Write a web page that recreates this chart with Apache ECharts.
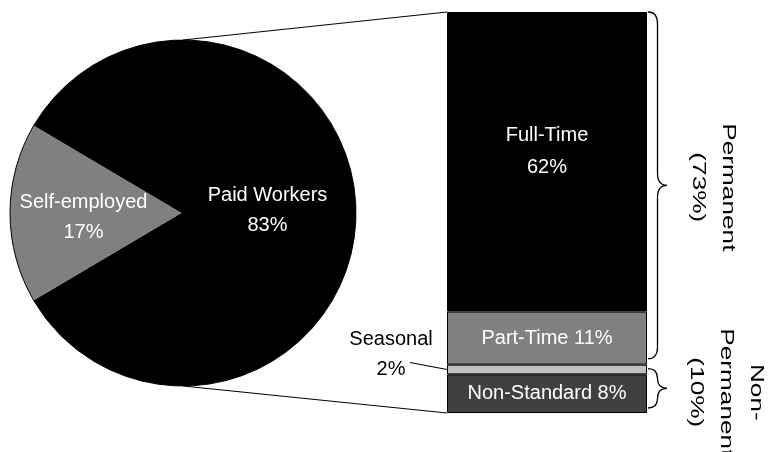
<!DOCTYPE html>
<html><head><meta charset="utf-8">
<script src="https://cdn.jsdelivr.net/npm/echarts@6/dist/echarts.min.js"></script>
<style>html,body{margin:0;padding:0;background:#fff}#chart{width:768px;height:452px}</style>
</head><body><div id="chart"></div>
<script>
// Workforce split: pie of all workers, bar breaking down paid workers
const pieNames = ['Self-employed', 'Paid Workers'];
const pieValues = [17, 83];
const pieColors = ['#808080', '#000000'];

// Stacked from the bottom up
const barNames = ['Non-Standard', 'Seasonal', 'Part-Time', 'Full-Time'];
const barValues = [8, 2, 11, 62];
const barColors = ['#404040', '#c0c0c0', '#808080', '#000000'];

// Brace groups, bottom to top
const groupLabels = [['Non-', 'Permanent'], ['Permanent']];
const groupValues = [10, 73];

const FONT = '"Liberation Sans", Arial, sans-serif';
const PIE_C = [183, 213], PIE_R = 173;
const GRID = { left: 447, top: 12, width: 200, height: 401 };

const chart = echarts.init(document.getElementById('chart'), null, { renderer: 'canvas' });

const pieTotal = pieValues.reduce((a, b) => a + b, 0);
const pieOffsets = [[-10, 4], [-5, -3]];
const barTotal = barValues.reduce((a, b) => a + b, 0);

const barLabelStyles = {
  'Non-Standard': { position: 'inside', formatter: '{a} {c}%', color: '#fff' },
  'Seasonal': {
    position: 'left', distance: 10, offset: [0, -15],
    formatter: '{t|{a}}\n{t|{c}%}',
    rich: { t: { width: 92, align: 'center', fontSize: 20, lineHeight: 30, color: '#000', fontFamily: FONT } }
  },
  'Part-Time': { position: 'inside', formatter: '{a} {c}%', color: '#fff' },
  'Full-Time': { position: 'inside', formatter: '{a}\n{c}%', color: '#fff', lineHeight: 32, offset: [0, -10] }
};

const option = {
  animation: false,
  backgroundColor: '#fff',
  textStyle: { fontFamily: FONT },
  grid: { left: GRID.left, top: GRID.top, width: GRID.width, height: GRID.height, containLabel: false },
  xAxis: { type: 'category', data: ['Paid'], show: false },
  yAxis: { type: 'value', min: 0, max: barTotal, show: false },
  series: [
    {
      type: 'pie',
      center: PIE_C,
      radius: PIE_R,
      startAngle: 180 + (pieValues[0] / pieTotal) * 360 / 2,
      clockwise: true,
      z: 3,
      itemStyle: { borderColor: '#000', borderWidth: 1 },
      label: {
        show: true, position: 'inside', color: '#fff', fontSize: 20, lineHeight: 30,
        fontFamily: FONT, formatter: '{b}\n{c}%'
      },
      labelLine: { show: false },
      emphasis: { disabled: true },
      data: pieNames.map((n, i) => ({
        name: n, value: pieValues[i],
        itemStyle: { color: pieColors[i] },
        label: { offset: pieOffsets[i] }
      }))
    },
    ...barNames.map((n, i) => ({
      type: 'bar',
      name: n,
      stack: 'paid',
      barWidth: '100%',
      z: 3,
      itemStyle: { color: barColors[i], borderColor: '#000', borderWidth: 1 },
      label: Object.assign({ show: true, fontSize: 20, fontFamily: FONT }, barLabelStyles[n]),
      emphasis: { disabled: true },
      data: [barValues[i]]
    }))
  ]
};
chart.setOption(option);

// Annotations positioned from the bar's value axis
const yPix = v => chart.convertToPixel({ yAxisIndex: 0 }, v);
const barLeft = GRID.left, barRight = GRID.left + GRID.width;
const braceStroke = { stroke: '#000', lineWidth: 1.3, fill: null };

// A right-facing curly brace built from lines and quadratic curves
function braceElements(x, y1, y2, w) {
  const m = (y1 + y2) / 2, h = w / 2, c = Math.min(12, (y2 - y1) / 4);
  const q = (ax, ay, cx, cy, bx, by) => ({ type: 'bezierCurve', z: 5, style: braceStroke,
    shape: { x1: ax, y1: ay, cpx1: cx, cpy1: cy, x2: bx, y2: by } });
  const l = (ax, ay, bx, by) => ({ type: 'line', z: 5, style: braceStroke,
    shape: { x1: ax, y1: ay, x2: bx, y2: by } });
  return [
    q(x, y1, x + h, y1, x + h, y1 + c),
    l(x + h, y1 + c, x + h, m - c),
    q(x + h, m - c, x + h, m, x + w, m),
    q(x + w, m, x + h, m, x + h, m + c),
    l(x + h, m + c, x + h, y2 - c),
    q(x + h, y2 - c, x + h, y2, x, y2)
  ];
}

// cumulative bounds of each brace group
const groupBounds = [];
let acc = 0;
groupValues.forEach(v => { groupBounds.push([acc, acc + v]); acc += v; });

const braceRanges = [
  [yPix(groupBounds[0][1]) + 4, yPix(groupBounds[0][0]) - 5],
  [yPix(groupBounds[1][1]), yPix(groupBounds[1][0]) - 6]
];
const groupTextX = [726, 713];
const groupTextDy = [4, 2];

const seasonalMid = yPix(barValues[0] + barValues[1] / 2);

const graphics = [
  // connectors from the pie to the bar
  { type: 'line', z: 1, shape: { x1: PIE_C[0], y1: PIE_C[1] - PIE_R, x2: barLeft, y2: yPix(barTotal) },
    style: { stroke: '#000', lineWidth: 1 } },
  { type: 'line', z: 1, shape: { x1: PIE_C[0], y1: PIE_C[1] + PIE_R, x2: barLeft, y2: yPix(0) },
    style: { stroke: '#000', lineWidth: 1 } },
  // seasonal leader line
  { type: 'line', z: 5, shape: { x1: barLeft - 37, y1: seasonalMid - 7, x2: barLeft, y2: seasonalMid },
    style: { stroke: '#000', lineWidth: 1.2 } }
];

braceRanges.forEach((r, i) => {
  braceElements(barRight + 1, r[0], r[1], 19).forEach(e => graphics.push(e));
  graphics.push({
    type: 'text', z: 5,
    x: groupTextX[i], y: (r[0] + r[1]) / 2 + groupTextDy[i],
    rotation: -Math.PI / 2, scaleX: 1.38,
    style: {
      text: groupLabels[i].concat('(' + groupValues[i] + '%)').join('\n'),
      fontSize: 19, fontFamily: FONT, fill: '#000',
      align: 'center', verticalAlign: 'middle', textAlign: 'center', textVerticalAlign: 'middle',
      lineHeight: 30
    }
  });
});

chart.setOption({ graphic: { elements: graphics } });
</script>
</body></html>
